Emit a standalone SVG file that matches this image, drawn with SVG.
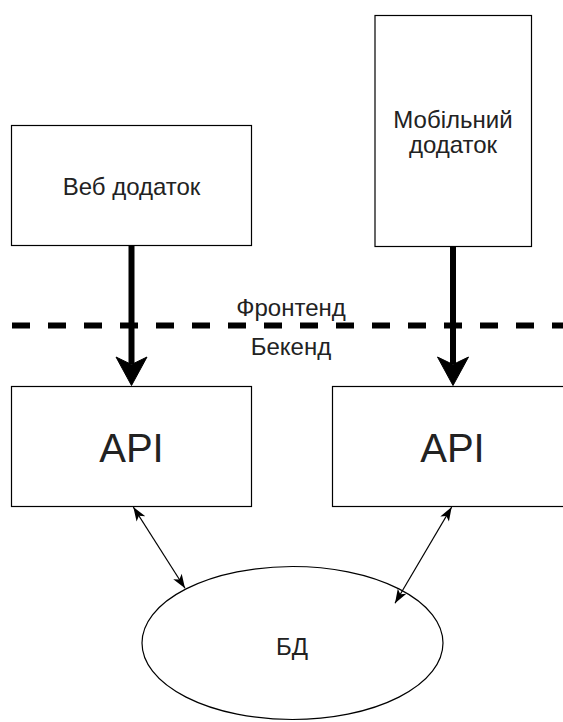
<svg xmlns="http://www.w3.org/2000/svg" width="563" height="722" viewBox="0 0 563 722">
  <style>
    .box { fill: #ffffff; stroke: #000000; stroke-width: 1.2; }
    .lbl { font-family: "Liberation Sans", Arial, sans-serif; fill: #222222; text-anchor: middle; }
    .s24 { font-size: 24px; }
    .s40 { font-size: 40px; }
    .thick { stroke: #000000; stroke-width: 6; fill: none; }
    .thin { stroke: #000000; stroke-width: 1.2; fill: none; marker-start: url(#tip); marker-end: url(#tip); }
    .head { fill: #000000; stroke: #000000; stroke-width: 1; stroke-linejoin: miter; }
  </style>
  <defs>
    <marker id="tip" viewBox="0 0 15 11" refX="14.5" refY="5.5" markerWidth="15" markerHeight="11" markerUnits="userSpaceOnUse" orient="auto-start-reverse">
      <path d="M0.5,0.5 L14.5,5.5 L0.5,10.5 L4,5.5 Z" fill="#000000"/>
    </marker>
  </defs>
  <rect width="563" height="722" fill="#ffffff"/>

  <g id="web-app">
    <rect class="box" x="11.5" y="125.5" width="240" height="120"/>
    <text class="lbl s24" x="131.5" y="194.5">Веб додаток</text>
  </g>

  <g id="mobile-app">
    <rect class="box" x="375" y="15.5" width="156.5" height="231"/>
    <text class="lbl s24" x="453" y="127.5">Мобільний</text>
    <text class="lbl s24" x="453" y="153">додаток</text>
  </g>

  <g id="boundary">
    <line x1="12" y1="325.5" x2="563" y2="325.5" stroke="#000000" stroke-width="6" stroke-dasharray="18 18"/>
    <text class="lbl s24" x="291" y="315.5">Фронтенд</text>
    <text class="lbl s24" x="291" y="355">Бекенд</text>
  </g>

  <g id="api-left">
    <rect class="box" x="11.5" y="386.5" width="240" height="120"/>
    <text class="lbl s40" x="131.5" y="461.5">API</text>
  </g>

  <g id="api-right">
    <rect class="box" x="332.5" y="386.5" width="240" height="120"/>
    <text class="lbl s40" x="452.5" y="461.5">API</text>
  </g>

  <g id="db">
    <ellipse class="box" cx="292.5" cy="643" rx="150.5" ry="76.5"/>
    <text class="lbl s24" x="292" y="655">БД</text>
  </g>

  <g id="connectors">
    <line class="thick" x1="131.5" y1="246" x2="131.5" y2="364"/>
    <path class="head" d="M131.5,385.5 L116,357 L131.5,364.5 L147,357 Z"/>
    <line class="thick" x1="453" y1="247" x2="453" y2="364"/>
    <path class="head" d="M453,385.5 L437.5,357 L453,364.5 L468.5,357 Z"/>
    <line class="thin" x1="133.3" y1="507" x2="185" y2="588.3"/>
    <line class="thin" x1="451.7" y1="507" x2="395" y2="603.3"/>
  </g>
</svg>
